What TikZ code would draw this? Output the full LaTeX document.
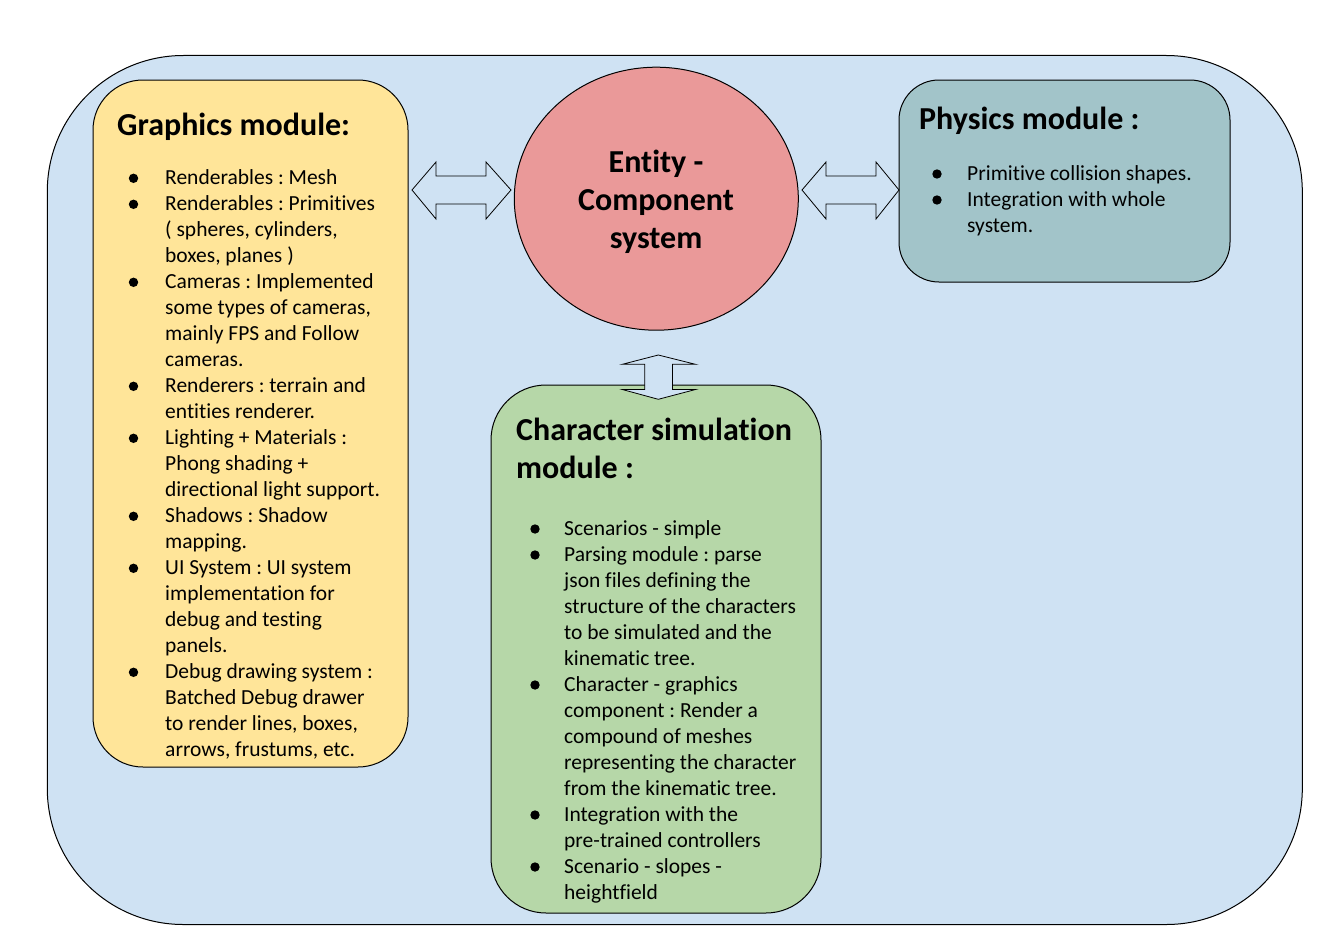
\documentclass[tikz,border=0pt]{standalone}
\usepackage{fontspec}
\setmainfont[Ligatures={NoCommon}]{Carlito}
\usetikzlibrary{shapes.geometric}
\definecolor{bgblue}{HTML}{CFE2F3}
\definecolor{gfxy}{HTML}{FFE599}
\definecolor{ecsr}{HTML}{EA9999}
\definecolor{phyc}{HTML}{A2C4C9}
\definecolor{chrg}{HTML}{B6D7A8}
\frenchspacing
\begin{document}
\begin{tikzpicture}[x=1pt,y=-1pt,
  box/.style={draw=black, line width=1pt, rectangle, inner sep=0pt, outer sep=0pt},
  ttl/.style={font=\fontsize{32}{38}\selectfont\bfseries, anchor=base west, inner sep=0pt},
  ecstxt/.style={font=\fontsize{32}{38}\selectfont\bfseries, anchor=base, inner sep=0pt},
  bodytxt/.style={font=\fontsize{21.5}{26}\selectfont, anchor=base west, inner sep=0pt},
  dbl/.style={draw=black, line width=0.8pt, fill=bgblue, line join=miter},
  bul/.style={fill=black}]
\useasboundingbox (0,0) rectangle (1341,934);
\fill[white] (0,0) rectangle (1341,934);
% outer container
\node[box, fill=bgblue, rounded corners=136, minimum width=1255, minimum height=869] (outer) at (674.8,490) {};
% boxes
\node[box, fill=gfxy, rounded corners=50, minimum width=315, minimum height=687] (gfx) at (250.5,423.5) {};
\node[box, fill=phyc, rounded corners=40, minimum width=331, minimum height=202] (phy) at (1064.5,181) {};
\node[box, fill=chrg, rounded corners=55, minimum width=330, minimum height=528] (chr) at (656,649) {};
\node[ellipse, draw=black, line width=1pt, fill=ecsr, minimum width=284, minimum height=263, inner sep=0pt] (ecs) at (656.3,198.7) {};
% ECS text
\node[ecstxt] (e1) at (656,172) {Entity -};
\node[ecstxt] (e2) at (656,210) {Component};
\node[ecstxt] (e3) at (656,248) {system};
% double arrows
\draw[dbl] (412,190) -- (436,162) -- (436,176) -- (486,176) -- (486,162) -- (511,190) -- (486,219) -- (486,204) -- (436,204) -- (436,219) -- cycle;
\draw[dbl] (802,190) -- (826,162) -- (826,176) -- (876,176) -- (876,162) -- (899,190) -- (876,219) -- (876,204) -- (826,204) -- (826,219) -- cycle;
\draw[dbl] (658.3,355) -- (695.5,364.3) -- (672.5,364.3) -- (672.5,389.5) -- (695.5,389.5) -- (658.3,399.3) -- (622.3,389.5) -- (644.8,389.5) -- (644.8,364.3) -- (622.3,364.3) -- cycle;
% Graphics module
\node[ttl] (gt) at (117,135) {Graphics module:};
\foreach \t [count=\i from 0] in {
  {Renderables : Mesh},
  {Renderables : Primitives},
  {( spheres, cylinders,},
  {boxes, planes )},
  {Cameras : Implemented},
  {some types of cameras,},
  {mainly FPS and Follow},
  {cameras.},
  {Renderers : terrain and},
  {entities renderer.},
  {Lighting + Materials :},
  {Phong shading +},
  {directional light support.},
  {Shadows : Shadow},
  {mapping.},
  {UI System : UI system},
  {implementation for},
  {debug and testing},
  {panels.},
  {Debug drawing system :},
  {Batched Debug drawer},
  {to render lines, boxes,},
  {arrows, frustums, etc.}}
  \node[bodytxt] (g\i) at (165,184.5+26*\i) {\t};
\foreach \i in {0,1,4,8,10,13,15,19}
  \fill[bul] (133.5,178.3+26*\i) circle (4.7);
% Physics module
\node[ttl] (pt) at (919,129) {Physics module :};
\foreach \t [count=\i from 0] in {
  {Primitive collision shapes.},
  {Integration with whole},
  {system.}}
  \node[bodytxt] (p\i) at (967,180+26*\i) {\t};
\foreach \i in {0,1}
  \fill[bul] (937,174+26*\i) circle (4.7);
% Character simulation module
\node[ttl] (ct1) at (516,440) {Character simulation};
\node[ttl] (ct2) at (516,478) {module :};
\foreach \t [count=\i from 0] in {
  {Scenarios - simple},
  {Parsing module : parse},
  {json files defining the},
  {structure of the characters},
  {to be simulated and the},
  {kinematic tree.},
  {Character - graphics},
  {component : Render a},
  {compound of meshes},
  {representing the character},
  {from the kinematic tree.},
  {Integration with the},
  {pre-trained controllers},
  {Scenario - slopes -},
  {heightfield}}
  \node[bodytxt] (c\i) at (564,535+26*\i) {\t};
\foreach \i in {0,1,6,11,13}
  \fill[bul] (535,529+26*\i) circle (4.7);
\end{tikzpicture}
\end{document}
